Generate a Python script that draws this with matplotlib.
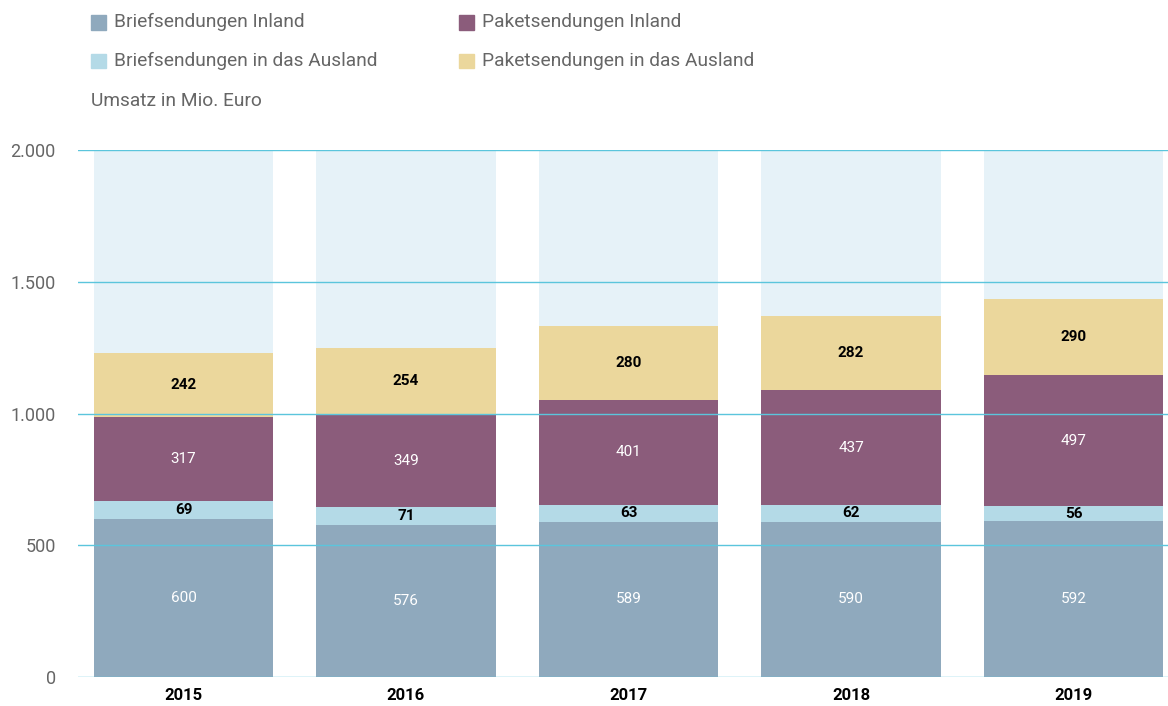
"""Umsatz Brief- und Paketsendungen 2015-2019 as stacked bars."""

import matplotlib

matplotlib.use("Agg")
import matplotlib.patches as mpatches
import matplotlib.pyplot as plt
from matplotlib.ticker import FuncFormatter

years = ["2015", "2016", "2017", "2018", "2019"]
brief_inland = [600, 576, 589, 590, 592]
brief_ausland = [69, 71, 63, 62, 56]
paket_inland = [317, 349, 401, 437, 497]
paket_ausland = [242, 254, 280, 282, 290]
y_max = 2000
y_ticks = [0, 500, 1000, 1500, 2000]

series = [
    ("Briefsendungen Inland", brief_inland, "#8fa9bd", "white"),
    ("Briefsendungen in das Ausland", brief_ausland, "#b4dae7", "black"),
    ("Paketsendungen Inland", paket_inland, "#8b5c7b", "white"),
    ("Paketsendungen in das Ausland", paket_ausland, "#ebd79c", "black"),
]

NARROW = ["Liberation Sans Narrow", "Roboto", "DejaVu Sans"]
plt.rcParams["font.family"] = ["Roboto", "DejaVu Sans"]
GREY = "#666666"

fig = plt.figure(figsize=(11.68, 7.06), dpi=100)
ax = fig.add_axes([0.0668, 0.0411, 0.9332, 0.7464])

x = list(range(len(years)))
width = 0.805

# light background column up to the axis top
ax.bar(x, [y_max] * len(x), width=width, color="#e6f2f8", zorder=1)

bottom = [0] * len(x)
for name, vals, color, txt_color in series:
    ax.bar(x, vals, width=width, bottom=bottom, color=color, zorder=2)
    for xi, b, v in zip(x, bottom, vals):
        ax.text(xi, b + v / 2, str(v), ha="center", va="center",
                fontsize=11, color=txt_color, family=NARROW, zorder=4,
                fontweight="normal" if txt_color == "white" else "bold")
    bottom = [b + v for b, v in zip(bottom, vals)]

for t in y_ticks:
    ax.axhline(t, color="#5bc5dc", lw=1.0, zorder=3)

ax.set_xlim(-0.474, 4.425)
ax.set_ylim(0, y_max)
ax.set_yticks(y_ticks)
ax.yaxis.set_major_formatter(FuncFormatter(lambda v, _: f"{int(v):,}".replace(",", ".")))
ax.set_xticks(x)
ax.set_xticklabels(years, family=NARROW, fontsize=12, fontweight="bold")
ax.tick_params(axis="y", length=0, pad=16, labelsize=13, labelcolor=GREY)
ax.tick_params(axis="x", length=0, pad=8)
for s in ax.spines.values():
    s.set_visible(False)

# legend laid out by hand, two columns
leg_pos = [(0.078, 0.9688), (0.078, 0.9136), (0.393, 0.9688), (0.393, 0.9136)]
for (name, _, color, _), (lx, ly) in zip(series, leg_pos):
    fig.patches.append(mpatches.Rectangle((lx, ly - 0.0106), 0.0128, 0.0212,
                                          transform=fig.transFigure,
                                          color=color, figure=fig))
    fig.text(lx + 0.0195, ly, name, va="center", ha="left",
             fontsize=13.8, color=GREY)

fig.text(0.078, 0.857, "Umsatz in Mio. Euro", va="center", ha="left",
         fontsize=13.8, color=GREY)

fig.savefig("out.png", dpi=100)
